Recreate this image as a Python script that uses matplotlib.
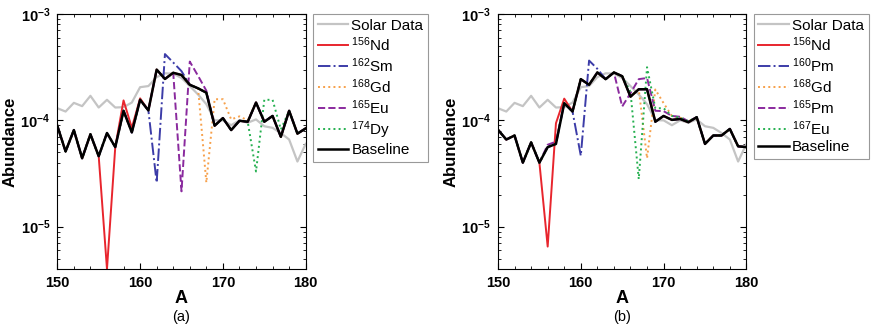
import matplotlib
matplotlib.use("Agg")
import matplotlib.pyplot as plt
from matplotlib.ticker import FixedLocator, FixedFormatter, MultipleLocator, LogLocator, NullFormatter

plt.rcParams['font.family'] = ['Liberation Sans', 'DejaVu Sans']
plt.rcParams['mathtext.fontset'] = 'custom'
plt.rcParams['mathtext.rm'] = 'Liberation Sans'
plt.rcParams['mathtext.it'] = 'Liberation Sans:italic'
plt.rcParams['mathtext.bf'] = 'Liberation Sans:bold'

A = list(range(150, 181))

solar = [1.30e-4, 1.21e-4, 1.46e-4, 1.36e-4, 1.70e-4, 1.32e-4, 1.56e-4, 1.32e-4, 1.33e-4, 1.47e-4,
         2.05e-4, 2.10e-4, 2.55e-4, 2.77e-4, 2.75e-4, 2.50e-4, 2.10e-4, 1.75e-4, 1.42e-4, 1.00e-4,
         1.00e-4, 9.0e-5, 1.0e-4, 9.5e-5, 1.02e-4, 8.8e-5, 8.5e-5, 7.6e-5, 6.6e-5, 4.1e-5, 6.0e-5]

# panel (a)
base_a = [8.9e-5, 5.1e-5, 8.1e-5, 4.4e-5, 7.4e-5, 4.6e-5, 7.6e-5, 5.6e-5, 1.23e-4, 7.7e-5,
          1.56e-4, 1.24e-4, 3.0e-4, 2.45e-4, 2.8e-4, 2.67e-4, 2.16e-4, 2.0e-4, 1.82e-4, 8.9e-5,
          1.05e-4, 8.1e-5, 9.9e-5, 9.7e-5, 1.47e-4, 9.7e-5, 1.1e-4, 7.0e-5, 1.23e-4, 7.5e-5, 8.4e-5]
nd156_a = base_a[:6] + [4.0e-6, 5.6e-5, 1.54e-4, 8.5e-5, 1.61e-4] + base_a[11:]
sm162_a = base_a[:12] + [2.6e-5, 4.2e-4, 3.5e-4, 2.9e-4] + base_a[16:]
gd168_a = base_a[:18] + [2.6e-5, 1.58e-4, 1.58e-4, 1.02e-4, 1.09e-4, 1.0e-4] + base_a[24:]
eu165_a = base_a[:15] + [2.15e-5, 3.57e-4, 2.62e-4, 1.9e-4] + base_a[19:]
dy174_a = base_a[:24] + [3.3e-5, 1.56e-4, 1.56e-4, 8.2e-5] + base_a[28:]

# panel (b)
base_b = [8.15e-5, 6.6e-5, 7.2e-5, 4.0e-5, 6.2e-5, 4.0e-5, 5.6e-5, 6.0e-5, 1.45e-4, 1.21e-4,
          2.44e-4, 2.16e-4, 2.82e-4, 2.44e-4, 2.82e-4, 2.6e-4, 1.67e-4, 1.96e-4, 1.96e-4, 9.7e-5,
          1.10e-4, 1.01e-4, 1.03e-4, 9.6e-5, 1.07e-4, 6.0e-5, 7.2e-5, 7.2e-5, 8.3e-5, 5.7e-5, 5.6e-5]
nd156_b = base_b[:6] + [6.5e-6, 9.4e-5, 1.6e-4] + base_b[9:]
pm160_b = base_b[:10] + [4.65e-5, 3.65e-4, 3.05e-4] + base_b[13:]
gd168_b = base_b[:18] + [4.4e-5, 1.95e-4, 1.45e-4, 1.1e-4, 1.06e-4, 9.8e-5] + base_b[24:]
pm165_b = base_b[:6] + [5.9e-5, 6.3e-5] + base_b[8:15] + [1.35e-4, 1.8e-4, 2.44e-4, 2.5e-4, 1.23e-4,
          1.22e-4, 1.1e-4, 1.08e-4, 9.8e-5] + base_b[24:]
eu167_b = base_b[:16] + [1.85e-4, 2.8e-5, 3.16e-4, 1.3e-4, 1.3e-4, 1.1e-4, 1.06e-4, 9.8e-5] + base_b[24:]

RED, BLUE, ORANGE, PURPLE, GREEN = "#e8252d", "#3c3ca8", "#f7a04a", "#8a2a9e", "#25b050"

fig = plt.figure(figsize=(8.71, 3.27), dpi=100)
ax1 = fig.add_axes([57.3/871, 58/327, 248.4/871, 255/327])
ax2 = fig.add_axes([498/871, 58/327, 248.4/871, 255/327])

panels = [
    (ax1, "(a)", [(nd156_a, r"$^{156}$Nd", RED, "-"),
                  (sm162_a, r"$^{162}$Sm", BLUE, "-."),
                  (gd168_a, r"$^{168}$Gd", ORANGE, ":"),
                  (eu165_a, r"$^{165}$Eu", PURPLE, "--"),
                  (dy174_a, r"$^{174}$Dy", GREEN, ":")], base_a),
    (ax2, "(b)", [(nd156_b, r"$^{156}$Nd", RED, "-"),
                  (pm160_b, r"$^{160}$Pm", BLUE, "-."),
                  (gd168_b, r"$^{168}$Gd", ORANGE, ":"),
                  (pm165_b, r"$^{165}$Pm", PURPLE, "--"),
                  (eu167_b, r"$^{167}$Eu", GREEN, ":")], base_b),
]

for ax, tag, series, base in panels:
    ax.plot(A, solar, color="#c4c4c4", lw=1.6, label="Solar Data")
    for vals, lab, col, ls in series:
        ax.plot(A, vals, color=col, ls=ls, lw=1.4, label=lab)
    ax.plot(A, base, color="black", lw=1.8, label="Baseline")
    ax.set_yscale("log")
    ax.set_xlim(150, 180); ax.set_ylim(4e-6, 1e-3)
    ax.xaxis.set_major_locator(MultipleLocator(10))
    ax.xaxis.set_minor_locator(MultipleLocator(2))
    ax.yaxis.set_major_locator(FixedLocator([1e-5, 1e-4, 1e-3]))
    ax.yaxis.set_major_formatter(FixedFormatter([r"$\mathbf{10^{-5}}$", r"$\mathbf{10^{-4}}$", r"$\mathbf{10^{-3}}$"]))
    ax.yaxis.set_minor_locator(LogLocator(base=10, subs=range(2, 10)))
    ax.yaxis.set_minor_formatter(NullFormatter())
    ax.tick_params(which="both", direction="in", top=True, right=True, labelsize=10.5, pad=5)
    ax.tick_params(which="major", length=4)
    ax.tick_params(which="minor", length=2)
    for t in ax.get_xticklabels():
        t.set_fontweight("bold")
    ax.set_xlabel("A", fontsize=13, fontweight="bold", labelpad=0)
    ax.set_ylabel("Abundance", fontsize=12, fontweight="bold", labelpad=2)
    ax.text(0.5, -0.16, tag, transform=ax.transAxes, ha="center", va="top", fontsize=10.5)
    leg = ax.legend(loc="upper left", bbox_to_anchor=(1.03, 1.0), fontsize=11, frameon=True,
                    fancybox=False, edgecolor="#808080", labelspacing=0.16, handlelength=2.0,
                    handletextpad=0.2, borderpad=0.3, borderaxespad=0)
    leg.get_frame().set_linewidth(0.8)

fig.savefig("out.png", dpi=100)
